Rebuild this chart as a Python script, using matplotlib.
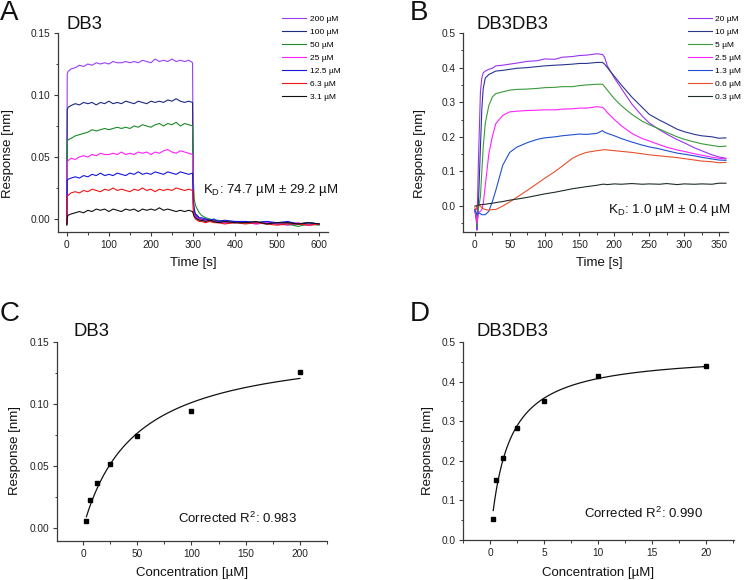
import numpy as np
import matplotlib
matplotlib.use('Agg')
import matplotlib.pyplot as plt
from matplotlib.ticker import MultipleLocator, FormatStrFormatter

plt.rcParams['font.family'] = ['Liberation Sans', 'DejaVu Sans']
plt.rcParams['mathtext.fontset'] = 'custom'
plt.rcParams['mathtext.rm'] = 'Liberation Sans'
plt.rcParams['mathtext.it'] = 'Liberation Sans:italic'
plt.rcParams['mathtext.default'] = 'regular'

# ---------------- Panel A: DB3 sensorgrams ----------------
time_A = [0, 1, 3, 10, 20, 30, 40, 50, 60, 70, 80, 90, 100, 110, 120, 130, 140, 150, 160, 170,
          180, 190, 200, 210, 220, 230, 240, 250, 260, 270, 280, 290, 299,
          301, 303, 306, 310, 315, 320, 330, 340, 350, 360, 375, 400, 425, 450, 475, 500,
          525, 550, 575, 600]
labels_A = ['200 µM', '100 µM', '50 µM', '25 µM', '12.5 µM', '6.3 µM', '3.1 µM']
colors_A = ['#9a40f0', '#1c2a80', '#1f8a2a', '#ff1fff', '#1515e0', '#f01515', '#111111']
resp_A_200 = [-0.004, 0.117, 0.119, 0.121, 0.122, 0.124, 0.123, 0.125, 0.124, 0.126, 0.125, 0.126,
              0.125, 0.127, 0.126, 0.126, 0.127, 0.126, 0.127, 0.126, 0.128, 0.127, 0.126, 0.129,
              0.127, 0.128, 0.127, 0.129, 0.127, 0.128, 0.127, 0.128, 0.126,
              0.010, 0.005, 0.003, 0.001, 0.000, -0.001, 0.000, -0.002, -0.001, -0.002,
              -0.003, -0.002, -0.003, -0.004, -0.003, -0.004, -0.005, -0.004, -0.005, -0.004]
resp_A_100 = [-0.004, 0.088, 0.090, 0.0915, 0.093, 0.092, 0.094, 0.093, 0.094, 0.092, 0.094, 0.093,
              0.095, 0.093, 0.094, 0.093, 0.095, 0.094, 0.093, 0.095, 0.094, 0.093, 0.095, 0.094,
              0.095, 0.094, 0.096, 0.095, 0.097, 0.095, 0.094, 0.095, 0.094,
              0.012, 0.006, 0.003, 0.002, 0.000, 0.000, -0.001, -0.001, -0.002, -0.002,
              -0.003, -0.002, -0.003, -0.003, -0.002, -0.004, -0.003, -0.004, -0.003, -0.004]
resp_A_50 = [-0.004, 0.062, 0.064, 0.065, 0.067, 0.068, 0.069, 0.070, 0.072, 0.071, 0.072, 0.073,
             0.072, 0.073, 0.074, 0.073, 0.074, 0.073, 0.075, 0.074, 0.076, 0.075, 0.074, 0.076,
             0.077, 0.075, 0.077, 0.076, 0.078, 0.075, 0.077, 0.076, 0.075,
             0.030, 0.016, 0.011, 0.008, 0.005, 0.003, 0.001, 0.000, -0.001, -0.001,
             -0.002, -0.003, -0.002, -0.003, -0.004, -0.003, -0.004, -0.006, -0.004, -0.005]
resp_A_25 = [-0.004, 0.046, 0.047, 0.049, 0.048, 0.050, 0.051, 0.050, 0.052, 0.051, 0.053, 0.052,
             0.052, 0.053, 0.052, 0.054, 0.052, 0.053, 0.052, 0.054, 0.053, 0.054, 0.052, 0.054,
             0.053, 0.055, 0.056, 0.054, 0.053, 0.055, 0.054, 0.053, 0.052,
             0.008, 0.004, 0.002, 0.001, 0.000, -0.001, -0.001, -0.002, -0.002, -0.002,
             -0.003, -0.003, -0.002, -0.004, -0.003, -0.004, -0.004, -0.003, -0.005, -0.004]
resp_A_12 = [-0.004, 0.031, 0.032, 0.033, 0.034, 0.033, 0.035, 0.034, 0.036, 0.035, 0.037, 0.035,
             0.036, 0.035, 0.037, 0.036, 0.035, 0.037, 0.036, 0.038, 0.036, 0.037, 0.036, 0.038,
             0.037, 0.036, 0.038, 0.037, 0.036, 0.038, 0.037, 0.036, 0.037,
             0.016, 0.008, 0.004, 0.003, 0.001, 0.001, 0.000, -0.001, 0.000, -0.002,
             -0.001, -0.002, -0.002, -0.003, -0.002, -0.003, -0.002, -0.004, -0.003, -0.004]
resp_A_6 = [-0.004, 0.018, 0.019, 0.021, 0.022, 0.021, 0.023, 0.022, 0.024, 0.023, 0.022, 0.024,
            0.023, 0.025, 0.023, 0.024, 0.023, 0.022, 0.024, 0.023, 0.025, 0.023, 0.024, 0.022,
            0.024, 0.023, 0.024, 0.023, 0.025, 0.024, 0.023, 0.024, 0.023,
            0.006, 0.002, 0.000, -0.001, -0.002, -0.002, -0.003, -0.002, -0.003, -0.003,
            -0.004, -0.003, -0.004, -0.003, -0.004, -0.005, -0.004, -0.004, -0.005, -0.004]
resp_A_3 = [-0.005, 0.001, 0.003, 0.004, 0.005, 0.006, 0.005, 0.007, 0.006, 0.008, 0.007, 0.008,
            0.006, 0.008, 0.007, 0.006, 0.008, 0.007, 0.008, 0.006, 0.008, 0.007, 0.008, 0.007,
            0.009, 0.007, 0.008, 0.007, 0.006, 0.007, 0.006, 0.007, 0.006,
            0.004, 0.002, 0.001, 0.000, -0.001, -0.001, -0.002, -0.001, -0.002, -0.003,
            -0.002, -0.003, -0.003, -0.002, -0.004, -0.003, -0.003, -0.004, -0.003, -0.004]
series_A = [resp_A_200, resp_A_100, resp_A_50, resp_A_25, resp_A_12, resp_A_6, resp_A_3]

# ---------------- Panel B: DB3DB3 sensorgrams ----------------
time_B = [0, 2, 3, 5, 8, 10, 12, 15, 20, 25, 30, 40, 50, 60, 75, 90, 100, 115, 125, 140, 150,
          160, 175, 183, 186, 190, 200, 210, 225, 240, 250, 265, 275, 290, 300, 315, 325, 340,
          350, 360]
labels_B = ['20 µM', '10 µM', '5 µM', '2.5 µM', '1.3 µM', '0.6 µM', '0.3 µM']
colors_B = ['#9933ee', '#2a3590', '#3a9a3a', '#ff22ff', '#2050d0', '#e8502a', '#1f2d2d']
resp_B_20 = [-0.015, -0.04, -0.07, 0.12, 0.33, 0.37, 0.385, 0.39, 0.395, 0.398, 0.405, 0.407,
             0.41, 0.413, 0.418, 0.42, 0.425, 0.424, 0.43, 0.432, 0.435, 0.436, 0.44, 0.438,
             0.43, 0.405, 0.37, 0.34, 0.295, 0.26, 0.24, 0.22, 0.208, 0.192, 0.183, 0.168,
             0.16, 0.148, 0.142, 0.138]
resp_B_10 = [-0.01, -0.03, -0.06, 0.0, 0.17, 0.28, 0.34, 0.37, 0.38, 0.385, 0.39, 0.392, 0.395,
             0.398, 0.4, 0.403, 0.405, 0.407, 0.408, 0.41, 0.412, 0.412, 0.415, 0.415,
             0.41, 0.40, 0.375, 0.35, 0.315, 0.285, 0.265, 0.248, 0.238, 0.222, 0.215, 0.207,
             0.203, 0.2, 0.196, 0.197]
resp_B_5 = [-0.01, -0.03, -0.06, -0.01, 0.027, 0.1, 0.17, 0.24, 0.29, 0.315, 0.325, 0.33, 0.335,
            0.337, 0.338, 0.34, 0.342, 0.343, 0.345, 0.345, 0.348, 0.35, 0.352, 0.352,
            0.345, 0.335, 0.31, 0.29, 0.265, 0.245, 0.235, 0.222, 0.213, 0.2, 0.193, 0.185,
            0.18, 0.175, 0.172, 0.173]
resp_B_2 = [-0.01, -0.03, -0.05, -0.02, -0.015, -0.01, 0.006, 0.06, 0.15, 0.2, 0.238, 0.262,
            0.272, 0.274, 0.276, 0.277, 0.278, 0.278, 0.28, 0.281, 0.283, 0.283, 0.287, 0.285,
            0.28, 0.27, 0.25, 0.232, 0.21, 0.195, 0.188, 0.177, 0.17, 0.162, 0.158, 0.151,
            0.147, 0.141, 0.138, 0.136]
resp_B_1 = [-0.01, -0.02, -0.025, -0.02, -0.022, -0.025, -0.025, -0.025, -0.015, 0.012, 0.045,
            0.118, 0.155, 0.17, 0.183, 0.193, 0.197, 0.2, 0.203, 0.206, 0.208, 0.207, 0.21, 0.218,
            0.213, 0.21, 0.203, 0.195, 0.185, 0.176, 0.171, 0.165, 0.16, 0.153, 0.15, 0.145,
            0.141, 0.136, 0.133, 0.132]
resp_B_06 = [-0.005, -0.01, 0.0, 0.005, 0.0, -0.005, -0.008, -0.01, -0.012, -0.01, -0.01, 0.0,
             0.012, 0.025, 0.045, 0.066, 0.08, 0.1, 0.115, 0.138, 0.148, 0.155, 0.16, 0.162,
             0.163, 0.162, 0.16, 0.158, 0.155, 0.151, 0.148, 0.145, 0.143, 0.14, 0.137, 0.133,
             0.13, 0.128, 0.125, 0.126]
resp_B_03 = [0.0, 0.0, 0.002, 0.003, 0.004, 0.004, 0.005, 0.005, 0.007, 0.008, 0.01, 0.013,
             0.017, 0.02, 0.025, 0.031, 0.035, 0.04, 0.044, 0.05, 0.053, 0.056, 0.06, 0.063,
             0.063, 0.062, 0.064, 0.063, 0.065, 0.063, 0.064, 0.063, 0.065, 0.062, 0.064, 0.063,
             0.064, 0.063, 0.066, 0.066]
series_B = [resp_B_20, resp_B_10, resp_B_5, resp_B_2, resp_B_1, resp_B_06, resp_B_03]

# ---------------- Panels C/D: steady-state responses ----------------
conc_C = [3.1, 6.3, 12.5, 25, 50, 100, 200]
resp_C = [0.0056, 0.0223, 0.0363, 0.0516, 0.0745, 0.094, 0.126]
conc_D = [0.3, 0.6, 1.25, 2.5, 5, 10, 20]
resp_D = [0.054, 0.152, 0.207, 0.282, 0.351, 0.413, 0.439]


def langmuir_fit(c, r):
    """Least-squares 1:1 binding fit R = Rmax*C/(KD+C) of the points."""
    c = np.asarray(c, float)
    r = np.asarray(r, float)
    best = None
    for kd in np.logspace(-2, 3, 4000):
        g = c / (kd + c)
        rmax = np.dot(g, r) / np.dot(g, g)
        sse = np.sum((r - rmax * g) ** 2)
        if best is None or sse < best[0]:
            best = (sse, kd, rmax)
    return best[1], best[2]


fig = plt.figure(figsize=(7.51, 5.80), dpi=100)
axA = fig.add_axes([0.0772, 0.600, 0.3595, 0.3431])
axB = fig.add_axes([0.6165, 0.600, 0.3529, 0.3431])
axC = fig.add_axes([0.0759, 0.0672, 0.3595, 0.3431])
axD = fig.add_axes([0.6165, 0.0690, 0.3609, 0.3414])

spine_col = '#3a3a3a'
for ax in (axA, axB, axC, axD):
    for s in ('top', 'right'):
        ax.spines[s].set_visible(False)
    for s in ('left', 'bottom'):
        ax.spines[s].set_color(spine_col)
        ax.spines[s].set_linewidth(0.9)
    ax.tick_params(which='major', direction='out', length=3, width=0.8, colors=spine_col,
                   labelsize=7.3, labelcolor='#222222', pad=2.5)
    ax.tick_params(which='minor', direction='out', length=1.8, width=0.7, colors=spine_col)

leg_kw = dict(bbox_transform=fig.transFigure, loc='upper left', frameon=False, borderpad=0,
              borderaxespad=0, handlelength=2.9, handletextpad=0.4, labelspacing=0.62,
              fontsize=6.0)

# Panel A
for y, c, lab in zip(series_A, colors_A, labels_A):
    axA.plot(time_A, y, color=c, lw=0.8, label=lab)
axA.set_xlim(-21, 621)
axA.set_ylim(-0.0105, 0.15)
axA.xaxis.set_major_locator(MultipleLocator(100))
axA.xaxis.set_minor_locator(MultipleLocator(50))
axA.yaxis.set_major_locator(MultipleLocator(0.05))
axA.yaxis.set_minor_locator(MultipleLocator(0.025))
axA.yaxis.set_major_formatter(FormatStrFormatter('%.2f'))
axA.legend(bbox_to_anchor=(0.3755, 0.9745), **leg_kw)

# Panel B
for y, c, lab in zip(series_B, colors_B, labels_B):
    axB.plot(time_B, y, color=c, lw=0.8, label=lab)
axB.set_xlim(-17, 363)
axB.set_ylim(-0.075, 0.5)
axB.xaxis.set_major_locator(MultipleLocator(50))
axB.xaxis.set_minor_locator(MultipleLocator(25))
axB.yaxis.set_major_locator(MultipleLocator(0.1))
axB.yaxis.set_minor_locator(MultipleLocator(0.05))
axB.yaxis.set_major_formatter(FormatStrFormatter('%.1f'))
axB.legend(bbox_to_anchor=(0.916, 0.9745), **leg_kw)

# Panel C
kdC, rmC = langmuir_fit(conc_C, resp_C)
xc = np.linspace(min(conc_C), max(conc_C), 300)
axC.plot(xc, rmC * xc / (kdC + xc), color='#111111', lw=0.9)
axC.plot(conc_C, resp_C, 's', color='#000000', ms=3.2)
axC.set_xlim(-24, 225)
axC.set_ylim(-0.0105, 0.15)
axC.xaxis.set_major_locator(MultipleLocator(50))
axC.xaxis.set_minor_locator(MultipleLocator(25))
axC.yaxis.set_major_locator(MultipleLocator(0.05))
axC.yaxis.set_minor_locator(MultipleLocator(0.025))
axC.yaxis.set_major_formatter(FormatStrFormatter('%.2f'))

# Panel D
kdD, rmD = langmuir_fit(conc_D, resp_D)
xd = np.linspace(min(conc_D), max(conc_D), 300)
axD.plot(xd, rmD * xd / (kdD + xd), color='#111111', lw=0.9)
axD.plot(conc_D, resp_D, 's', color='#000000', ms=3.2)
axD.set_xlim(-2.5, 22.6)
axD.set_ylim(0, 0.5)
axD.xaxis.set_major_locator(MultipleLocator(5))
axD.xaxis.set_minor_locator(MultipleLocator(2.5))
axD.yaxis.set_major_locator(MultipleLocator(0.1))
axD.yaxis.set_minor_locator(MultipleLocator(0.05))
axD.yaxis.set_major_formatter(FormatStrFormatter('%.1f'))

# Texts
tc = '#111111'
fig.text(0.0, 0.9776, 'A', fontsize=20, va='center', ha='left', color=tc)
fig.text(0.546, 0.9776, 'B', fontsize=20, va='center', ha='left', color=tc)
fig.text(0.0, 0.4586, 'C', fontsize=20, va='center', ha='left', color=tc)
fig.text(0.546, 0.4586, 'D', fontsize=20, va='center', ha='left', color=tc)

fig.text(0.0892, 0.957, 'DB3', fontsize=13.3, va='center', ha='left', color=tc)
fig.text(0.635, 0.957, 'DB3DB3', fontsize=13.3, va='center', ha='left', color=tc)
fig.text(0.0985, 0.4276, 'DB3', fontsize=13.3, va='center', ha='left', color=tc)
fig.text(0.635, 0.4276, 'DB3DB3', fontsize=13.3, va='center', ha='left', color=tc)

fig.text(0.2703, 0.6724, r'K$_\mathrm{D}$: 74.7 µM ± 29.2 µM', fontsize=9.5, va='center', ha='left', color=tc)
fig.text(0.8096, 0.638, r'K$_\mathrm{D}$: 1.0 µM ± 0.4 µM', fontsize=9.7, va='center', ha='left', color=tc)
fig.text(0.237, 0.1069, r'Corrected R$^2$: 0.983', fontsize=9.5, va='center', ha='left', color=tc)
fig.text(0.7776, 0.1155, r'Corrected R$^2$: 0.990', fontsize=9.5, va='center', ha='left', color=tc)

lab = dict(fontsize=9.5, color=tc, ha='center', va='center')
fig.text(0.0107, 0.736, 'Response [nm]', rotation=90, **lab)
fig.text(0.559, 0.736, 'Response [nm]', rotation=90, **lab)
fig.text(0.020, 0.224, 'Response [nm]', rotation=90, **lab)
fig.text(0.570, 0.224, 'Response [nm]', rotation=90, **lab)
fig.text(0.257, 0.5466, 'Time [s]', **lab)
fig.text(0.7976, 0.5466, 'Time [s]', **lab)
fig.text(0.2557, 0.012, 'Concentration [µM]', **lab)
fig.text(0.796, 0.012, 'Concentration [µM]', **lab)

fig.savefig('out.png', dpi=100, facecolor='white')
